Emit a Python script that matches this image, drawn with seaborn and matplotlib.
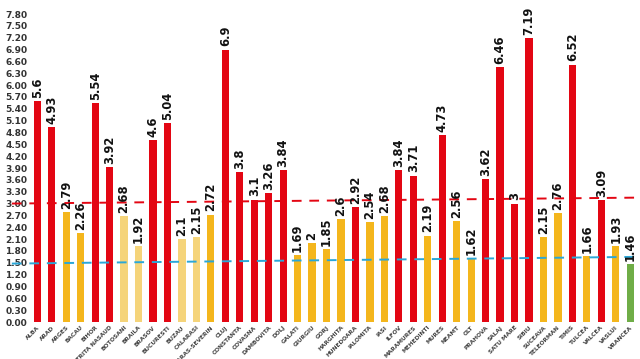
import seaborn as sns
import pandas as pd
import matplotlib.pyplot as plt

counties = ['ALBA', 'ARAD', 'ARGES', 'BACAU', 'BIHOR', 'BISTRITA NASAUD', 'BOTOSANI',
            'BRAILA', 'BRASOV', 'BUCURESTI', 'BUZAU', 'CALARASI', 'CARAS-SEVERIN', 'CLUJ',
            'CONSTANTA', 'COVASNA', 'DAMBOVITA', 'DOLJ', 'GALATI', 'GIURGIU', 'GORJ',
            'HARGHITA', 'HUNEDOARA', 'IALOMITA', 'IASI', 'ILFOV', 'MARAMURES', 'MEHEDINTI',
            'MURES', 'NEAMT', 'OLT', 'PRAHOVA', 'SALAJ', 'SATU MARE', 'SIBIU', 'SUCEAVA',
            'TELEORMAN', 'TIMIS', 'TULCEA', 'VALCEA', 'VASLUI', 'VRANCEA']
rates = [5.6, 4.93, 2.79, 2.26, 5.54, 3.92, 2.68, 1.92, 4.6, 5.04, 2.1, 2.15, 2.72, 6.9,
         3.8, 3.1, 3.26, 3.84, 1.69, 2, 1.85, 2.6, 2.92, 2.54, 2.68, 3.84, 3.71, 2.19,
         4.73, 2.56, 1.62, 3.62, 6.46, 3, 7.19, 2.15, 2.76, 6.52, 1.66, 3.09, 1.93, 1.46]
# r = red, y = yellow, p = pale yellow, g = green (as coloured in the source)
groups = list('rryyrrpprr' 'ppyrrrrryy' 'yyryyrryry' 'yrrrryyryr' 'yg')

# hand drawn threshold lines, value at left and right end
red_line = [3.0, 3.15]
blue_line = [1.48, 1.65]

palette = {'r': '#E30613', 'y': '#F4B61C', 'p': '#F5D47A', 'g': '#6FAD47'}

df = pd.DataFrame({'county': counties, 'rate': rates, 'grp': groups})

fig = plt.figure(figsize=(6.4, 3.59), dpi=100)
ax = fig.add_axes([0.047, 0.103, 0.949, 0.858])

sns.barplot(data=df, x='county', y='rate', hue='grp', palette=palette,
            dodge=False, width=0.5, legend=False, saturation=1, ax=ax)

for i, v in enumerate(rates):
    ax.text(i, v + 0.08, f'{v:g}', rotation=90, ha='center', va='bottom',
            fontsize=8.3, fontweight='bold', color='#111111')

tr = ax.get_yaxis_transform()
ax.plot([-0.03, 1.0], red_line, transform=tr, color='#E30613', lw=1.4,
        ls=(0, (5, 4)), clip_on=False)
ax.plot([-0.03, 1.0], blue_line, transform=tr, color='#2AA7D8', lw=1.4,
        ls=(0, (5, 4)), clip_on=False)

ax.set_ylim(0, 7.8)
ax.set_xlim(-0.5, len(counties) - 0.5)
ax.set_yticks([i * 0.3 for i in range(27)])
ax.set_yticklabels([f'{i * 0.3:.2f}' for i in range(27)], fontsize=6.5,
                   fontweight='bold', color='#333333')
ax.set_xticks(range(len(counties)))
ax.set_xticklabels(counties, rotation=45, ha='right', rotation_mode='anchor',
                   fontsize=4.2, fontweight='bold', color='#444444')
ax.tick_params(length=0, pad=2)
ax.set_xlabel('')
ax.set_ylabel('')
sns.despine(ax=ax, left=True, bottom=True)

plt.savefig('out.png', dpi=100)
